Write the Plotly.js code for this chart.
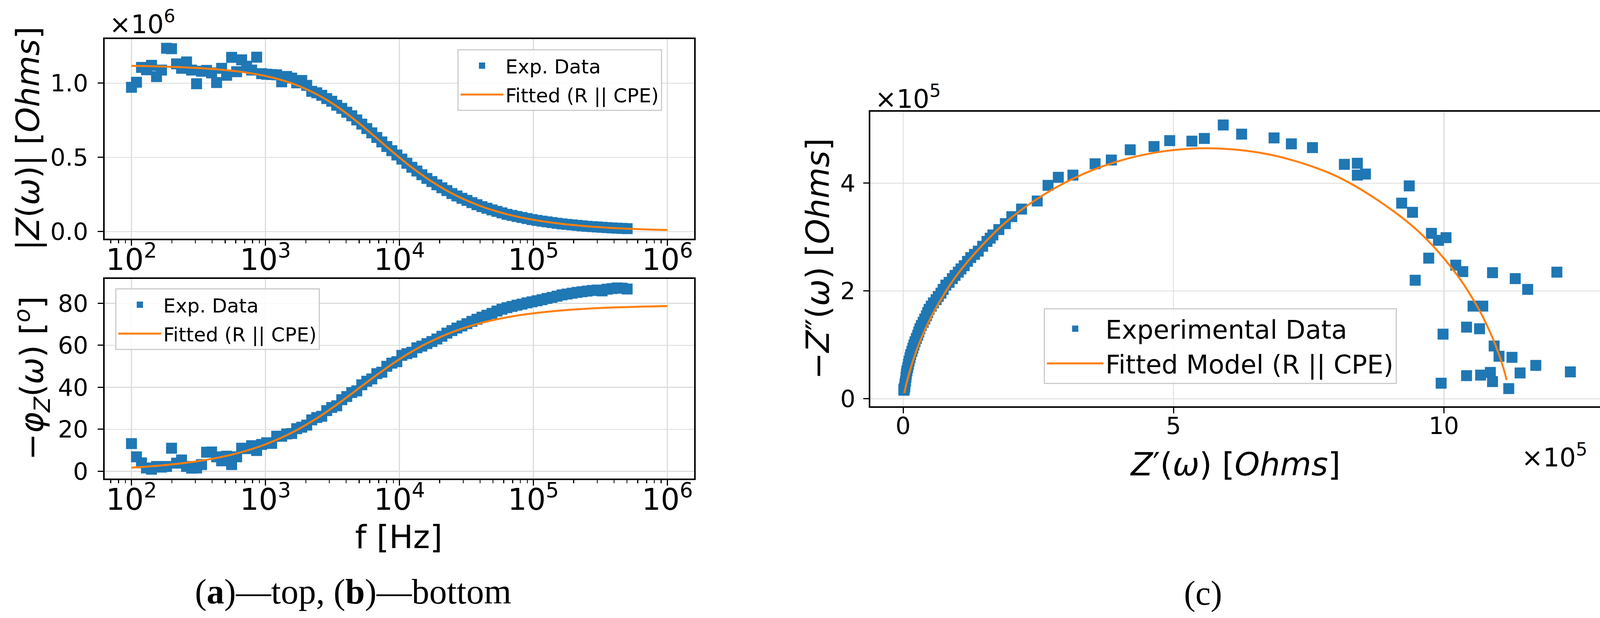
<!DOCTYPE html>
<html>
<head>
<meta charset="utf-8">
<script src="https://cdn.plot.ly/plotly-3.0.1.min.js"></script>
<style>html,body{margin:0;padding:0;background:#fff;}#chart{width:4131px;height:1582px;}</style>
</head>
<body>
<div id="chart"></div>
<script>
// ---------- Data ----------
// Frequencies of the experimental sweep [Hz]
const freqHz = [100,109.0,118.8,129.4,141.1,153.8,167.6,182.7,199.1,217.0,
236.4,257.7,280.9,306.1,333.6,363.6,396.3,431.9,470.7,513.1,
559.2,609.4,664.2,723.9,788.9,859.8,937.0,1021,1113,1213,
1322,1441,1570,1711,1865,2033,2215,2414,2631,2868,
3125,3406,3713,4046,4410,4806,5238,5709,6221,6781,
7390,8054,8778,9568,10428,11365,12385,13499,14712,16034,
17474,19046,20757,22621,24654,26871,29287,31916,34785,37912,
41321,45031,49079,53491,58301,63533,69247,75472,82258,89646,
97700,106485,116035,126474,137844,150243,163718,178445,194488,211980,
231013,251768,274405,299071,325960,355220,387170,421990,459880,501187];

// |Z(w)| experimental, in units of 1e6 Ohms
const zMagE6 = [0.972,1.006,1.106,1.090,1.120,1.044,1.088,1.235,1.232,1.130,
1.100,1.143,1.088,0.996,1.080,1.086,1.069,1.004,1.100,1.053,
1.174,1.077,1.157,1.114,1.088,1.175,1.064,1.060,1.058,1.056,
1.009,1.045,1.034,1.002,1.018,0.985,0.945,0.935,0.918,0.896,
0.878,0.851,0.830,0.804,0.780,0.752,0.724,0.694,0.665,0.634,
0.604,0.573,0.545,0.516,0.488,0.460,0.433,0.408,0.383,0.358,
0.337,0.315,0.295,0.276,0.256,0.240,0.224,0.210,0.195,0.181,
0.168,0.157,0.146,0.136,0.126,0.116,0.1087,0.1016,0.0947,0.0877,
0.0808,0.0752,0.0702,0.0654,0.0606,0.0559,0.0516,0.0483,0.0451,0.0418,
0.0386,0.0354,0.0331,0.0309,0.0288,0.0266,0.0244,0.0227,0.0212,0.0197];

// -phase experimental [deg]
const phaseDeg = [13.2,6.9,4.0,1.6,1.0,2.3,2.0,2.3,11.0,3.9,
5.4,2.3,1.5,1.6,3.2,9.1,9.2,6.9,5.0,7.2,
3.2,6.9,11.0,10.8,12.2,9.9,12.8,13.6,13.3,16.7,
16.7,17.8,18.0,20.3,21.0,22.0,24.5,25.6,26.2,28.9,
30.4,31.2,34.1,35.6,37.5,38.3,41.2,42.9,44.0,46.5,
47.2,50.0,51.5,52.2,55.2,56.0,56.7,58.8,59.6,60.8,
61.8,63.0,64.3,65.8,67.0,68.2,69.2,70.3,71.4,72.4,
73.4,74.3,75.2,76.3,77.2,77.9,78.5,79.1,79.6,80.2,
80.7,81.2,81.7,82.3,82.8,83.4,84.0,84.4,84.8,85.2,
85.5,85.8,86.1,86.3,85.9,86.7,87.0,87.3,87.2,86.8];

// Fitted (R || CPE) curve, sampled frequencies [Hz]
const fitFreqHz = [100,158.5,251.2,398.1,631.0,1000,1585,2512,3162,3981,5012,6310,7943,
10000,12589,15849,25119,39811,63096,100000,158489,251189,398107,630957,1000000];
const fitMagE6 = [1.1168,1.1128,1.1064,1.0958,1.0782,1.0482,0.9979,0.9170,0.8628,0.7995,0.7286,0.6526,0.5750,
0.4989,0.4271,0.3618,0.2533,0.1737,0.1177,0.07926,0.05316,0.03557,0.02377,0.01588,0.01060];
const fitPhaseDeg = [1.79,2.67,3.99,5.93,8.77,12.84,18.50,25.94,30.26,34.88,39.65,44.43,49.04,
53.36,57.28,60.77,66.43,70.47,73.29,75.23,76.54,77.42,78.01,78.41,78.67];
// Nyquist fit, units of 1e5 Ohms
const fitReE5 = [11.162,11.116,11.037,10.900,10.656,10.220,9.463,8.247,7.452,6.559,5.610,4.661,3.769,
2.978,2.309,1.767,1.014,0.581,0.338,0.202,0.124,0.0775,0.0494,0.0319,0.0208];
const fitImE5 = [0.349,0.519,0.770,1.132,1.644,2.330,3.167,4.011,4.348,4.572,4.649,4.568,4.342,
4.002,3.594,3.157,2.322,1.637,1.128,0.766,0.517,0.347,0.233,0.156,0.104];

// Nyquist experimental points, units of 1e5 Ohms
const nyqReE5 = [12.34,12.09,11.70,11.55,11.32,11.41,11.26,11.20,10.90,10.90,10.86,10.93,11.02,10.68,10.66,10.72,10.54,10.42,10.42,10.35,10.22,9.985,9.95,10.04,9.90,9.77,9.72,9.47,9.42,9.36,9.22,8.55,8.40,8.40,8.16,
7.57,7.18,6.86,6.26,5.92,5.57,5.34,4.93,4.64,4.20,3.85,3.55,3.14,2.87,2.68,2.48,2.19,2.01,1.89,1.66,1.55,1.39,1.25,1.13,1.02,0.91,0.79,0.70,0.61,0.52,0.455,0.40,0.336,0.29,0.245,0.20,0.162,0.126,0.098,0.071,0.053,0.035,0.017,
1.77,1.61,1.47,1.32,1.19,1.07,0.96,0.85,0.74,0.65,0.56,0.48,0.43,0.37,0.31,0.27,0.22,0.18,0.14,0.11,0.085,0.06,0.045,0.03,0.02,0.012];
const nyqImE5 = [0.50,2.35,0.62,2.03,2.23,0.48,0.77,0.19,2.34,0.32,0.49,0.98,0.79,0.44,1.30,1.72,1.72,1.33,0.43,2.36,2.48,1.20,0.29,2.99,2.94,3.07,2.61,2.20,3.46,3.95,3.63,4.17,4.37,4.15,4.35,
4.66,4.73,4.84,4.91,5.08,4.83,4.78,4.79,4.68,4.62,4.43,4.36,4.15,4.11,3.96,3.67,3.52,3.38,3.25,3.04,2.92,2.74,2.62,2.47,2.35,2.23,2.11,1.96,1.84,1.72,1.60,1.48,1.36,1.24,1.12,1.00,0.88,0.76,0.64,0.52,0.40,0.28,0.16,
3.14,2.98,2.83,2.68,2.55,2.41,2.29,2.16,2.03,1.90,1.78,1.66,1.54,1.42,1.30,1.18,1.06,0.94,0.82,0.70,0.58,0.46,0.33,0.22,0.19,0.17];

// ---------- Styling ----------
const BLUE = '#1f77b4', ORANGE = '#ff7f0e';
const FONT = 'DejaVu Sans';
const W = 4131, H = 1582;
const px = v => v / W, py = v => 1 - v / H;

const axBase = {
  showline: true, linecolor: 'black', linewidth: 4, mirror: true,
  ticks: 'outside', ticklen: 14, tickwidth: 3, tickcolor: 'black',
  showgrid: true, gridcolor: '#dcdcdc', gridwidth: 2.5, zeroline: false,
  tickfont: {family: FONT, size: 61, color: 'black'}
};
const logX = Object.assign({}, axBase, {
  type: 'log', range: [1.8, 6.2], dtick: 1, exponentformat: 'power',
  domain: [px(268), px(1777)], ticklabelstandoff: -26,
  minor: {ticks: 'outside', ticklen: 8, tickwidth: 2.5, tickcolor: 'black', dtick: 'D1', showgrid: false}
});

const traces = [
  {type: 'scatter', mode: 'markers', name: 'Exp. Data', x: freqHz, y: zMagE6,
   xaxis: 'x', yaxis: 'y', legend: 'legend', legendgroup: 'a1',
   marker: {symbol: 'square', size: 28, color: BLUE, line: {width: 0}}},
  {type: 'scatter', mode: 'lines', name: 'Fitted (R || CPE)', x: fitFreqHz, y: fitMagE6,
   xaxis: 'x', yaxis: 'y', legend: 'legend', legendgroup: 'a2',
   line: {color: ORANGE, width: 5, shape: 'spline'}},
  {type: 'scatter', mode: 'markers', name: 'Exp. Data', x: freqHz, y: phaseDeg,
   xaxis: 'x2', yaxis: 'y2', legend: 'legend2', legendgroup: 'b1',
   marker: {symbol: 'square', size: 28, color: BLUE, line: {width: 0}}},
  {type: 'scatter', mode: 'lines', name: 'Fitted (R || CPE)', x: fitFreqHz, y: fitPhaseDeg,
   xaxis: 'x2', yaxis: 'y2', legend: 'legend2', legendgroup: 'b2',
   line: {color: ORANGE, width: 5, shape: 'spline'}},
  {type: 'scatter', mode: 'markers', name: 'Experimental Data', x: nyqReE5, y: nyqImE5,
   xaxis: 'x3', yaxis: 'y3', legend: 'legend3', legendgroup: 'c1',
   marker: {symbol: 'square', size: 28, color: BLUE, line: {width: 0}}},
  {type: 'scatter', mode: 'lines', name: 'Fitted Model (R || CPE)', x: fitReE5, y: fitImE5,
   xaxis: 'x3', yaxis: 'y3', legend: 'legend3', legendgroup: 'c2',
   line: {color: ORANGE, width: 5, shape: 'spline'}}
];

const legBase = {xanchor: 'left', yanchor: 'top', bgcolor: 'rgba(255,255,255,0.85)',
  bordercolor: '#cccccc', borderwidth: 3, itemwidth: 110, traceorder: 'grouped', tracegroupgap: 6};

const ann = (text, x, y, opts) => Object.assign({
  text: text, x: x, y: y, xref: 'paper', yref: 'paper', showarrow: false,
  xanchor: 'center', yanchor: 'middle',
  font: {family: FONT, size: 82, color: 'black'}
}, opts || {});

const layout = {
  width: W, height: H,
  margin: {l: 0, r: 0, t: 0, b: 0, pad: 0},
  paper_bgcolor: 'white', plot_bgcolor: 'white',
  font: {family: FONT, color: 'black'},
  showlegend: true,
  xaxis: Object.assign({}, logX, {anchor: 'y'}),
  yaxis: Object.assign({}, axBase, {anchor: 'x', range: [-0.048, 1.297], tick0: 0, dtick: 0.5,
    tickformat: '.1f', domain: [py(611), py(100)], ticklabelstandoff: 12}),
  xaxis2: Object.assign({}, logX, {anchor: 'y2'}),
  yaxis2: Object.assign({}, axBase, {anchor: 'x2', range: [-3.44, 91.6], tick0: 0, dtick: 20,
    domain: [py(1225), py(714)], ticklabelstandoff: 12}),
  xaxis3: Object.assign({}, axBase, {anchor: 'y3', range: [-0.607, 12.96], tick0: 0, dtick: 5,
    domain: [px(2228), px(4106)], ticklabelstandoff: -20}),
  yaxis3: Object.assign({}, axBase, {anchor: 'x3', range: [-0.138, 5.326], tick0: 0, dtick: 2,
    domain: [py(1040), py(286)], ticklabelstandoff: 8}),
  legend: Object.assign({}, legBase, {x: px(1171), y: py(126), font: {family: FONT, size: 50, color: 'black'}}),
  legend2: Object.assign({}, legBase, {x: px(295), y: py(738), font: {family: FONT, size: 50, color: 'black'}}),
  legend3: Object.assign({}, legBase, {x: px(2672), y: py(789), itemwidth: 145, tracegroupgap: 0,
    font: {family: FONT, size: 66, color: 'black'}}),
  annotations: [
    ann('|<i>Z</i>(<i>ω</i>)| [<i>Ohms</i>]', px(72), py(355), {textangle: -90}),
    ann('−<i>φ</i><sub><i>Z</i></sub>(<i>ω</i>) [<sup><i>o</i></sup>]', px(82), py(968), {textangle: -90}),
    ann('f [Hz]', px(1021), py(1374)),
    ann('<i>Z</i>′(<i>ω</i>) [<i>Ohms</i>]', px(3162), py(1188)),
    ann('−<i>Z</i>″(<i>ω</i>) [<i>Ohms</i>]', px(2094), py(663), {textangle: -90}),
    ann('×10<sup>6</sup>', px(278), py(58), {xanchor: 'left', font: {family: FONT, size: 66, color: 'black'}}),
    ann('×10<sup>5</sup>', px(2238), py(248), {xanchor: 'left', font: {family: FONT, size: 66, color: 'black'}}),
    ann('×10<sup>5</sup>', px(4066), py(1166), {xanchor: 'right', font: {family: FONT, size: 66, color: 'black'}}),
    ann('(<b>a</b>)—top, (<b>b</b>)—bottom', px(904), py(1515), {font: {family: 'Liberation Serif', size: 90, color: 'black'}}),
    ann('(c)', px(3080), py(1518), {font: {family: 'Liberation Serif', size: 88, color: 'black'}})
  ]
};

Plotly.newPlot('chart', traces, layout, {staticPlot: true, displayModeBar: false});
</script>
</body>
</html>
